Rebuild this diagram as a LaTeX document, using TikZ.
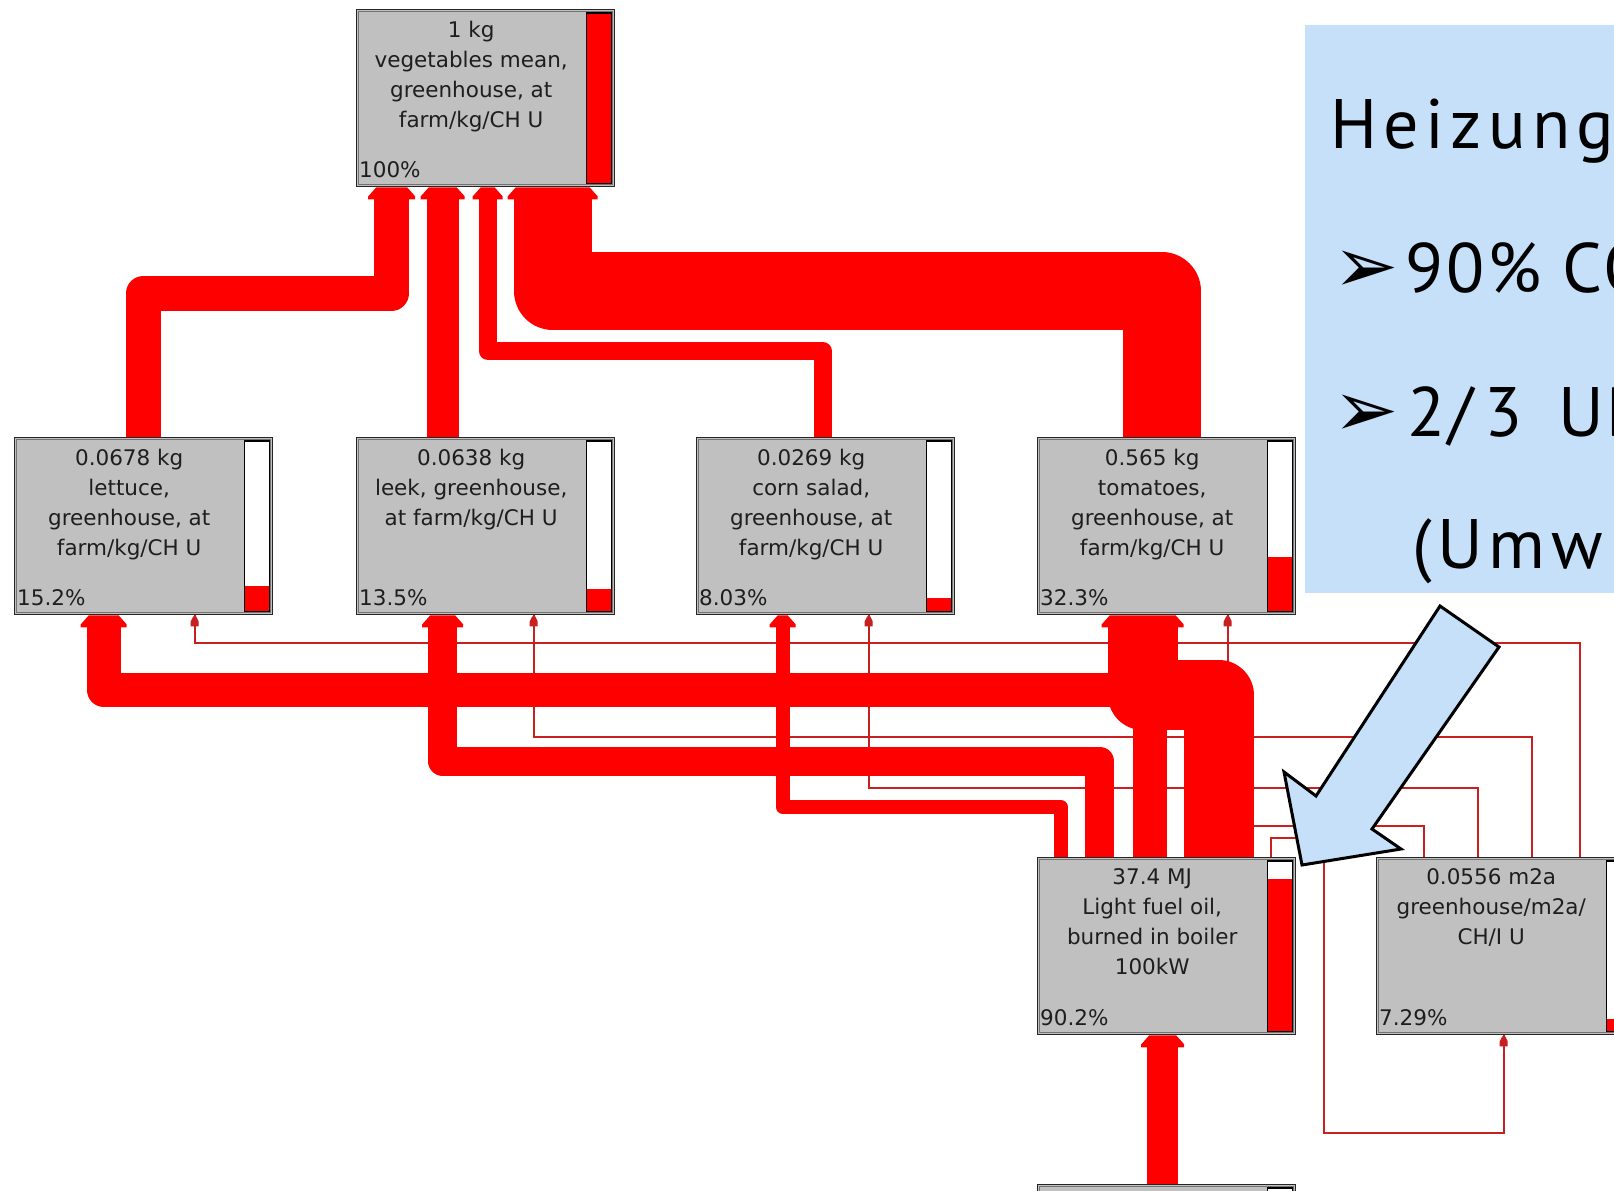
\documentclass[tikz,border=0pt]{standalone}
\usepackage{fontspec}
\newfontfamily\boxfont{DejaVu Sans}
\newfontfamily\callfont[LetterSpace=4]{PT Sans}
\newfontfamily\symfont{DejaVu Sans}
\usetikzlibrary{calc}
\definecolor{boxgray}{RGB}{192,192,192}
\definecolor{flowred}{RGB}{255,0,0}
\definecolor{thinred}{RGB}{200,32,32}
\definecolor{callblue}{RGB}{198,224,250}
\definecolor{txtcol}{RGB}{30,30,30}
\pgfdeclarelayer{back}
\pgfdeclarelayer{flows}
\pgfsetlayers{back,flows,main}
\tikzset{
  pbox/.style={rectangle, anchor=north west, minimum width=258pt, minimum height=177pt,
    inner sep=0pt, fill=boxgray, draw=black!85, line width=1.4pt},
  pboxin/.style={draw=black!55, line width=0.7pt},
  barline/.style={draw=black, line width=1.4pt},
  ptext/.style={anchor=north, align=center, inner sep=0pt, text=txtcol,
    font=\boxfont\fontsize{21.5}{30}\selectfont},
  ppct/.style={anchor=base west, inner sep=0pt, text=txtcol,
    font=\boxfont\fontsize{21.5}{30}\selectfont},
  redflow/.style={draw=flowred, line width=#1pt, line join=round, shorten >=10pt},
  thinflow/.style={draw=thinred, line width=2pt},
  calltext/.style={anchor=base west, inner sep=0pt, text=black,
    font=\callfont\fontsize{70}{80}\selectfont},
  callsym/.style={anchor=base west, inner sep=0pt, text=black,
    font=\symfont\fontsize{78}{80}\selectfont},
  bluearrow/.style={fill=callblue, draw=black, line width=3pt, line join=miter},
}
% name, x, y, text, percentage, fraction
\newcommand\procbox[6]{%
  \node[pbox] (#1) at (#2,#3) {};
  \draw[pboxin] ([shift={(2.8pt,-2.8pt)}]#1.north west) rectangle ([shift={(-2.8pt,2.8pt)}]#1.south east);
  \fill[boxgray] ([xshift=-31pt,yshift=-3.5pt]#1.north east) rectangle ([xshift=-3.5pt,yshift=3.5pt]#1.south east);
  \fill[white] ([xshift=-29pt,yshift=-4pt]#1.north east) rectangle ([xshift=-4pt,yshift=4pt]#1.south east);
  \fill[flowred] ([xshift=-29pt,yshift=4pt]#1.south east) rectangle ([xshift=-4pt,yshift={4pt+#6*169pt}]#1.south east);
  \draw[barline] ([xshift=-29pt,yshift=-4pt]#1.north east) rectangle ([xshift=-4pt,yshift=4pt]#1.south east);
  \node[ptext] at ([xshift=-14.5pt,yshift=-11.5pt]#1.north) {#4};
  \node[ppct] at ([xshift=3pt,yshift=10pt]#1.south west) {#5};
}
\newcommand\fhead[2]{\fill[flowred] (#1) ++({-#2/2+2},0) -- ++({#2-4},0) -- ++(8,9) -- ++(0,3) -- ++({-#2-12},0) -- ++(0,-3) -- cycle;}
\newcommand\thead[1]{\fill[thinred] (#1) ++(-1.5,1) -- ++(3,0) -- ++(2.5,5) -- ++(0,5) -- ++(-8,0) -- ++(0,-5) -- cycle;}
\begin{document}
\begin{tikzpicture}[x=1pt,y=-1pt]
\useasboundingbox (0,0) rectangle (1614,1191);
\begin{pgfonlayer}{back}
  \fill[white] (0,0) rectangle (1614,1191);
\end{pgfonlayer}
\clip (0,0) rectangle (1614,1191);

% process boxes
\procbox{top}{356}{9}{1 kg\\vegetables mean,\\greenhouse, at\\farm/kg/CH U}{100\%}{1}
\procbox{lettuce}{14}{437}{0.0678 kg\\lettuce,\\greenhouse, at\\farm/kg/CH U}{15.2\%}{0.152}
\procbox{leek}{356}{437}{0.0638 kg\\leek, greenhouse,\\at farm/kg/CH U}{13.5\%}{0.135}
\procbox{corn}{696}{437}{0.0269 kg\\corn salad,\\greenhouse, at\\farm/kg/CH U}{8.03\%}{0.0803}
\procbox{tomatoes}{1037}{437}{0.565 kg\\tomatoes,\\greenhouse, at\\farm/kg/CH U}{32.3\%}{0.323}
\procbox{fuel}{1037}{857}{37.4 MJ\\Light fuel oil,\\burned in boiler\\100kW}{90.2\%}{0.902}
\procbox{gh}{1376}{857}{0.0556 m2a\\greenhouse/m2a/\\CH/I U}{7.29\%}{0.0729}
\procbox{bottom}{1037}{1184}{}{}{0.9}

\begin{pgfonlayer}{flows}
  % thin flows from the greenhouse
  \draw[thinflow] ([xshift=74pt]gh.north) -- ++(0,-214) -| ([xshift=51pt]lettuce.south);
  \draw[thinflow] ([xshift=26pt]gh.north) -- ++(0,-120) -| ([xshift=48pt]leek.south);
  \draw[thinflow] ([xshift=-28pt]gh.north) -- ++(0,-69) -| ([xshift=43pt]corn.south);
  \draw[thinflow] ([xshift=-82pt]gh.north) -- ++(0,-31) -| ([xshift=61pt]tomatoes.south);
  \draw[thinflow] ([xshift=104pt]fuel.north) -- ++(0,-19) -- ++(53,0) -- ++(0,295) -| ([xshift=-2pt]gh.south);
  \thead{[xshift=51pt]lettuce.south}
  \thead{[xshift=48pt]leek.south}
  \thead{[xshift=43pt]corn.south}
  \thead{[xshift=61pt]tomatoes.south}
  \thead{[xshift=-2pt]gh.south}

  % thick flows from the fuel oil
  \draw[redflow=34] ([xshift=-17pt]fuel.north) -- ++(0,-167) -| ([xshift=-40pt]lettuce.south);
  \draw[redflow=29] ([xshift=-67pt]fuel.north) -- ++(0,-96) -| ([xshift=-43pt]leek.south);
  \draw[redflow=14] ([xshift=-106pt]fuel.north) -- ++(0,-50) -| ([xshift=-43pt]corn.south);
  \draw[redflow=70] ([xshift=52pt]fuel.north) -- ++(0,-162) -| ([xshift=-24pt]tomatoes.south);
  \draw[redflow=31] ([xshift=-4pt]bottom.north) -- ([xshift=-4pt]fuel.south);
  \fhead{[xshift=-40pt]lettuce.south}{34}
  \fhead{[xshift=-43pt]leek.south}{29}
  \fhead{[xshift=-43pt]corn.south}{14}
  \fhead{[xshift=-24pt]tomatoes.south}{70}
  \fhead{[xshift=-4pt]fuel.south}{31}

  % thick flows into the top box
  \draw[redflow=35] (lettuce.north) -- ++(0,-144) -| ([xshift=-94pt]top.south);
  \draw[redflow=32] ([xshift=-43pt]leek.north) -- ([xshift=-43pt]top.south);
  \draw[redflow=18] ([xshift=-3pt]corn.north) -- ++(0,-86) -| ([xshift=2pt]top.south);
  \draw[redflow=78] ([xshift=-5pt]tomatoes.north) -- ++(0,-146) -| ([xshift=67pt]top.south);
  \fhead{[xshift=-94pt]top.south}{35}
  \fhead{[xshift=-43pt]top.south}{32}
  \fhead{[xshift=2pt]top.south}{18}
  \fhead{[xshift=67pt]top.south}{78}
\end{pgfonlayer}

% callout
\fill[callblue] (1305,25) rectangle (1625,593);
\node[calltext] (h1) at (1330,148) {\addfontfeature{LetterSpace=9}Heizung};
\node[callsym] (b1) at (1333,292) {➢};
\node[calltext] (t2) at (1405,292) {90\% CO};
\node[callsym] (b2) at (1333,436) {➢};
\node[calltext] (t3) at (1407,436) {2/\hspace{12pt}3\hspace{14pt} UB};
\node[calltext] (t4) at (1412,568) {\addfontfeature{LetterSpace=8}(Umw};

% pointing arrow
\draw[bluearrow] (1440,606) -- (1499,647) -- (1372,829) -- (1401,849) -- (1302,865) -- (1284,772) -- (1316,796) -- cycle;
\end{tikzpicture}
\end{document}
